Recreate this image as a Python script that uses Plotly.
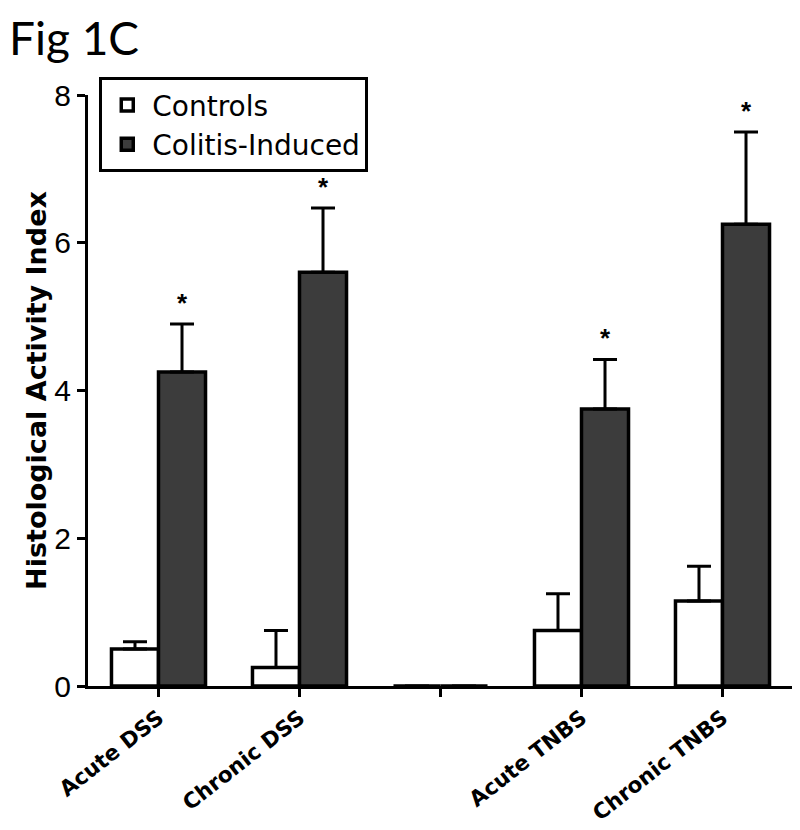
import plotly.graph_objects as go

categories = ["Acute DSS", "Chronic DSS", "", "Acute TNBS", "Chronic TNBS"]
controls = [0.5, 0.25, 0.0, 0.75, 1.15]
controls_err = [0.1, 0.5, 0.0, 0.5, 0.47]
colitis = [4.25, 5.6, 0.0, 3.75, 6.25]
colitis_err = [0.65, 0.87, 0.0, 0.67, 1.25]
significant = [True, True, False, True, True]

xpos = list(range(len(categories)))
font = "Liberation Sans, Arial, sans-serif"
wide = "DejaVu Sans, sans-serif"

fig = go.Figure()
fig.add_trace(go.Bar(
    x=xpos, y=controls, name="Controls",
    marker=dict(color="white", line=dict(color="black", width=3.5)),
    error_y=dict(type="data", symmetric=False, array=controls_err,
                 arrayminus=[0] * len(controls), color="black", thickness=3, width=12),
))
fig.add_trace(go.Bar(
    x=xpos, y=colitis, name="Colitis-Induced",
    marker=dict(color="#3c3c3c", line=dict(color="black", width=3.5)),
    error_y=dict(type="data", symmetric=False, array=colitis_err,
                 arrayminus=[0] * len(colitis), color="black", thickness=3, width=12),
))

for i, s in enumerate(significant):
    if s:
        fig.add_annotation(x=i + 1 / 6, y=colitis[i] + colitis_err[i], text="<b>*</b>",
                           showarrow=False, yanchor="bottom", yshift=4,
                           font=dict(family=font, size=26, color="black"))

fig.add_annotation(xref="paper", yref="paper", x=-0.115, y=1.148, xanchor="left", yanchor="top",
                   text="Fig 1C", showarrow=False,
                   font=dict(family="Lato, Open Sans, sans-serif", size=46, color="black"))

fig.update_layout(
    width=792, height=822,
    margin=dict(l=80, r=7, t=87, b=144, autoexpand=False),
    paper_bgcolor="white", plot_bgcolor="white",
    barmode="group", bargap=0.333, bargroupgap=0,
    showlegend=True,
    legend=dict(x=0.016, y=1.03, xanchor="left", yanchor="top",
                bordercolor="black", borderwidth=3, bgcolor="white",
                font=dict(family=wide, size=28, color="black"),
                tracegroupgap=0, itemwidth=40),
    xaxis=dict(range=[-0.5, 4.5], tickmode="array", tickvals=xpos, ticktext=categories,
               tickangle=-38, ticks="outside", ticklen=8, tickwidth=3, tickcolor="black",
               showline=True, linecolor="black", linewidth=3, showgrid=False, zeroline=False,
               automargin=False,
               tickfont=dict(family=wide, size=21.5, color="black", weight="bold")),
    yaxis=dict(range=[0, 8], tickvals=[0, 2, 4, 6, 8], ticks="outside", ticklen=8, tickwidth=3,
               tickcolor="black", showline=True, linecolor="black", linewidth=3,
               showgrid=False, zeroline=False, automargin=False,
               tickfont=dict(family=font, size=30, color="black"),
               title=dict(text="<b>Histological Activity Index</b>", standoff=0,
                          font=dict(family=wide, size=27, color="black"))),
)

fig.write_html("out.html")
